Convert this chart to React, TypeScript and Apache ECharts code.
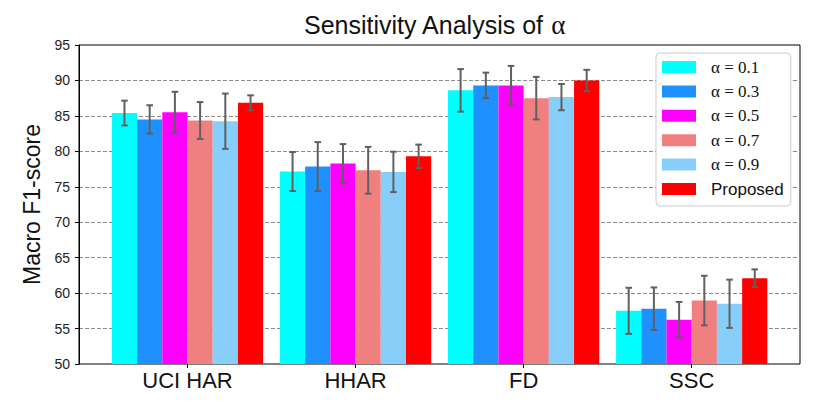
import React, { useEffect, useRef } from "react";
import * as echarts from "echarts";

const categories = ["UCI HAR", "HHAR", "FD", "SSC"];
const seriesNames = ["α = 0.1", "α = 0.3", "α = 0.5", "α = 0.7", "α = 0.9", "Proposed"];
const seriesColors = ["#00FFFF", "#1E90FF", "#FF00FF", "#F08080", "#87CEFA", "#FF0000"];

const meanA01 = [85.4, 77.15, 88.6, 57.5];
const meanA03 = [84.5, 77.85, 89.3, 57.8];
const meanA05 = [85.5, 78.27, 89.3, 56.25];
const meanA07 = [84.35, 77.33, 87.5, 58.95];
const meanA09 = [84.25, 77.1, 87.65, 58.5];
const meanProp = [86.85, 79.3, 90.0, 62.1];

const errA01 = [1.75, 2.75, 3.0, 3.25];
const errA03 = [2.0, 3.45, 1.8, 3.0];
const errA05 = [2.9, 2.75, 2.75, 2.5];
const errA07 = [2.6, 3.3, 3.0, 3.5];
const errA09 = [3.9, 2.85, 1.85, 3.4];
const errProp = [1.05, 1.65, 1.5, 1.25];

const yTicksMin = 50;
const yTicksMax = 95;
const yTickStep = 5;

const means = [meanA01, meanA03, meanA05, meanA07, meanA09, meanProp];
const errs = [errA01, errA03, errA05, errA07, errA09, errProp];

const SANS = "'Liberation Sans', Arial, Helvetica, sans-serif";
const SERIF = "'Liberation Serif', 'DejaVu Serif', serif";

export default function App() {
  const ref = useRef<HTMLDivElement>(null);

  useEffect(() => {
    if (!ref.current) return;
    const chart = echarts.init(ref.current, undefined, { renderer: "svg" });

    const barSeries = seriesNames.map((name, i) => ({
      name,
      type: "bar",
      xAxisIndex: 1,
      yAxisIndex: 1,
      data: means[i],
      barGap: "0%",
      barCategoryGap: "10%",
      itemStyle: { color: seriesColors[i] },
      z: 2,
    }));

    const errData: number[][] = [];
    seriesNames.forEach((_, s) => {
      categories.forEach((_c, c) => {
        errData.push([c, means[s][c], errs[s][c], s]);
      });
    });

    const errSeries = {
      name: "errorbars",
      type: "custom",
      xAxisIndex: 1,
      yAxisIndex: 1,
      z: 5,
      encode: { x: 0, y: 1 },
      data: errData,
      renderItem: (params: any, api: any) => {
        const cat = api.value(0);
        const mean = api.value(1);
        const err = api.value(2);
        const s = api.value(3);
        const band = api.size([1, 0])[0];
        const barW = (band * 0.9) / seriesNames.length;
        const cx = api.coord([cat, mean])[0] + (s - (seriesNames.length - 1) / 2) * barW;
        const yTop = api.coord([cat, mean + err])[1];
        const yBot = api.coord([cat, mean - err])[1];
        const cap = 3.3;
        const st = { stroke: "#606060", lineWidth: 2 };
        return {
          type: "group",
          children: [
            { type: "line", shape: { x1: cx, y1: yTop, x2: cx, y2: yBot }, style: st },
            { type: "line", shape: { x1: cx - cap, y1: yTop, x2: cx + cap, y2: yTop }, style: st },
            { type: "line", shape: { x1: cx - cap, y1: yBot, x2: cx + cap, y2: yBot }, style: st },
          ],
        };
      },
    };

    const option: any = {
      animation: false,
      backgroundColor: "#ffffff",
      title: {
        text: "{a|Sensitivity Analysis of }{b|α}",
        left: 304,
        top: 11,
        padding: 0,
        textStyle: {
          fontWeight: "normal",
          fontSize: 25,
          fontFamily: SANS,
          rich: {
            a: { fontFamily: SANS, fontSize: 25, fontWeight: "normal", color: "#111" },
            b: { fontFamily: SERIF, fontSize: 27, fontWeight: "normal", color: "#111" },
          },
        },
      },
      legend: {
        data: seriesNames,
        orient: "vertical",
        left: 656,
        top: 53,
        padding: [4, 7, 7, 6],
        itemWidth: 34,
        itemHeight: 12,
        itemGap: 4.4,
        icon: "rect",
        backgroundColor: "#ffffff",
        borderColor: "#cccccc",
        borderWidth: 1,
        borderRadius: 4,
        selectedMode: false,
        formatter: (name: string) => (name.startsWith("α") ? `{m|${name}}` : `{s|${name}}`),
        textStyle: {
          fontSize: 17,
          fontFamily: SANS,
          color: "#111",
          lineHeight: 20,
          rich: {
            m: { fontFamily: SERIF, fontSize: 17, color: "#111", lineHeight: 20, padding: [0, 0, 0, 10] },
            s: { fontFamily: SANS, fontSize: 17, color: "#111", lineHeight: 20, padding: [0, 0, 0, 10] },
          },
        },
      },
      grid: [
        {
          left: 79,
          right: 30,
          top: 45,
          bottom: 46,
          show: true,
          borderColor: "#000",
          borderWidth: 1,
          backgroundColor: "transparent",
        },
        {
          left: 103.47,
          right: 54.25,
          top: 45,
          bottom: 46,
        },
      ],
      xAxis: [
        {
          type: "value",
          gridIndex: 0,
          min: 0,
          max: 1,
          axisLine: { show: false },
          axisTick: { show: false },
          axisLabel: { show: false },
          splitLine: { show: false },
        },
        {
          type: "category",
          gridIndex: 1,
          data: categories,
          axisLine: { show: false },
          axisTick: {
            show: true,
            alignWithLabel: true,
            length: 4,
            inside: false,
            lineStyle: { color: "#000", width: 1 },
          },
          axisLabel: { fontFamily: SANS, fontSize: 22, color: "#111", margin: 5 },
          splitLine: { show: false },
        },
      ],
      yAxis: [
        {
          type: "value",
          gridIndex: 0,
          min: yTicksMin,
          max: yTicksMax,
          interval: yTickStep,
          name: "Macro F1-score",
          nameLocation: "middle",
          nameRotate: 90,
          nameGap: 31,
          nameTextStyle: { fontFamily: SANS, fontSize: 23, color: "#111" },
          axisLine: { show: true, lineStyle: { color: "#000", width: 1 } },
          axisTick: { show: true, length: 4, inside: false, lineStyle: { color: "#000" } },
          axisLabel: { fontFamily: SANS, fontSize: 14, color: "#222", margin: 9 },
          splitLine: {
            show: true,
            showMinLine: false,
            showMaxLine: false,
            lineStyle: { color: "#8c8c8c", type: [4, 2], width: 1 },
          },
        },
        {
          type: "value",
          gridIndex: 1,
          min: yTicksMin,
          max: yTicksMax,
          interval: yTickStep,
          show: false,
          splitLine: { show: false },
        },
      ],
      series: [...barSeries, errSeries],
    };

    chart.setOption(option);
    return () => {
      chart.dispose();
    };
  }, []);

  return (
    <div
      ref={ref}
      style={{ position: "fixed", left: 0, top: 0, width: 830, height: 410, background: "#fff" }}
    />
  );
}
